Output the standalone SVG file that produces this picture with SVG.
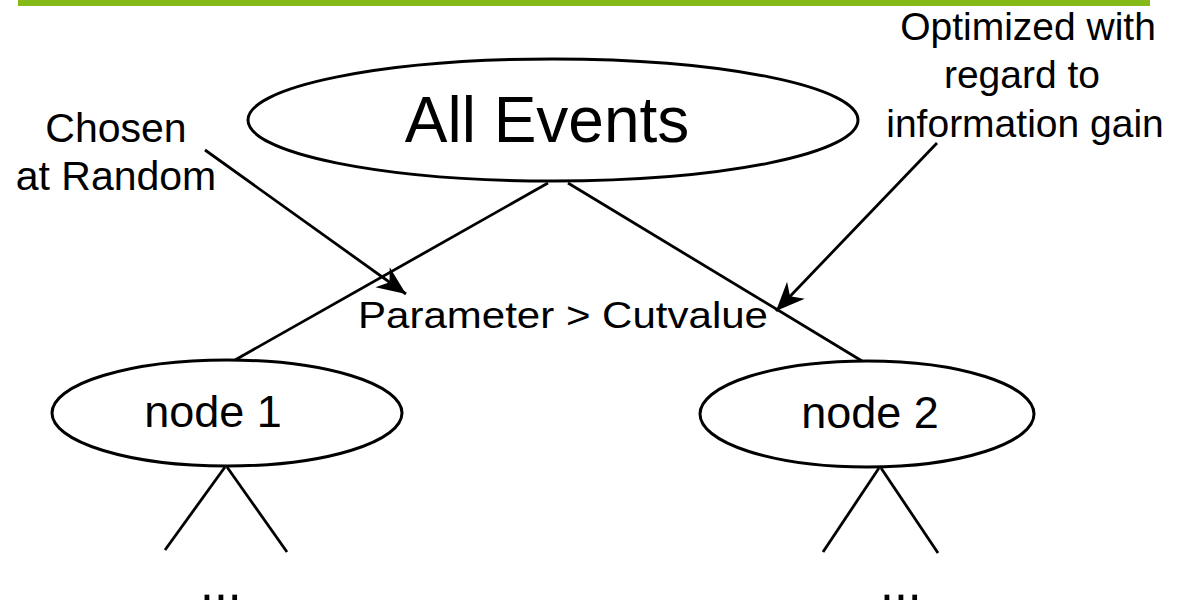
<svg xmlns="http://www.w3.org/2000/svg" width="1200" height="603" viewBox="0 0 1200 603">
  <style>
    .node { fill: #ffffff; stroke: #000000; stroke-width: 3; }
    .edge { stroke: #000000; stroke-width: 2.8; fill: none; }
    .ptr { stroke: #000000; stroke-width: 2.8; fill: none; marker-end: url(#arrow); }
    text { font-family: "Liberation Sans", Arial, sans-serif; fill: #000000; }
  </style>
  <defs>
    <marker id="arrow" markerUnits="userSpaceOnUse" markerWidth="32" markerHeight="32" viewBox="-28 -14 30 28" refX="0" refY="0" orient="auto">
      <path d="M0,0 L-27,-11.5 L-19,0 L-27,11.5 Z" fill="#000000"/>
    </marker>
  </defs>
  <rect x="18" y="0" width="1132" height="6" fill="#85b918"/>

  <g id="connectors">
    <line class="edge" x1="548" y1="183" x2="235" y2="360"/>
    <line class="edge" x1="568" y1="183" x2="862" y2="361"/>
    <line class="edge" x1="225" y1="467" x2="165" y2="550"/>
    <line class="edge" x1="227" y1="467" x2="287" y2="552"/>
    <line class="edge" x1="879" y1="468" x2="823" y2="552"/>
    <line class="edge" x1="881" y1="468" x2="938" y2="553"/>
    <line class="ptr" x1="205" y1="150" x2="406" y2="294"/>
    <line class="ptr" x1="937" y1="143" x2="776" y2="311"/>
  </g>

  <g id="all-events">
    <ellipse class="node" cx="553" cy="120" rx="305" ry="61"/>
    <text x="547" y="142" font-size="64" text-anchor="middle">All Events</text>
  </g>
  <g id="node1">
    <ellipse class="node" cx="227" cy="413" rx="175" ry="53"/>
    <text x="213" y="427" font-size="45" text-anchor="middle">node 1</text>
  </g>
  <g id="node2">
    <ellipse class="node" cx="867" cy="414" rx="167" ry="53"/>
    <text x="870" y="428" font-size="45" text-anchor="middle">node 2</text>
  </g>
  <g id="dots1">
    <text x="200" y="600" font-size="50">...</text>
  </g>
  <g id="dots2">
    <text x="880" y="600" font-size="50">...</text>
  </g>
  <g id="label-chosen">
    <text x="116" y="142" font-size="41" text-anchor="middle">Chosen</text>
    <text x="116" y="190" font-size="41" text-anchor="middle">at Random</text>
  </g>
  <g id="label-optimized">
    <text x="1028" y="40" font-size="39" text-anchor="middle">Optimized with</text>
    <text x="1022" y="88" font-size="39" text-anchor="middle">regard to</text>
    <text x="1025" y="137" font-size="39" text-anchor="middle">information gain</text>
  </g>
  <g id="label-cut">
    <text x="358" y="328" font-size="37" textLength="410" lengthAdjust="spacingAndGlyphs">Parameter &gt; Cutvalue</text>
  </g>
</svg>
